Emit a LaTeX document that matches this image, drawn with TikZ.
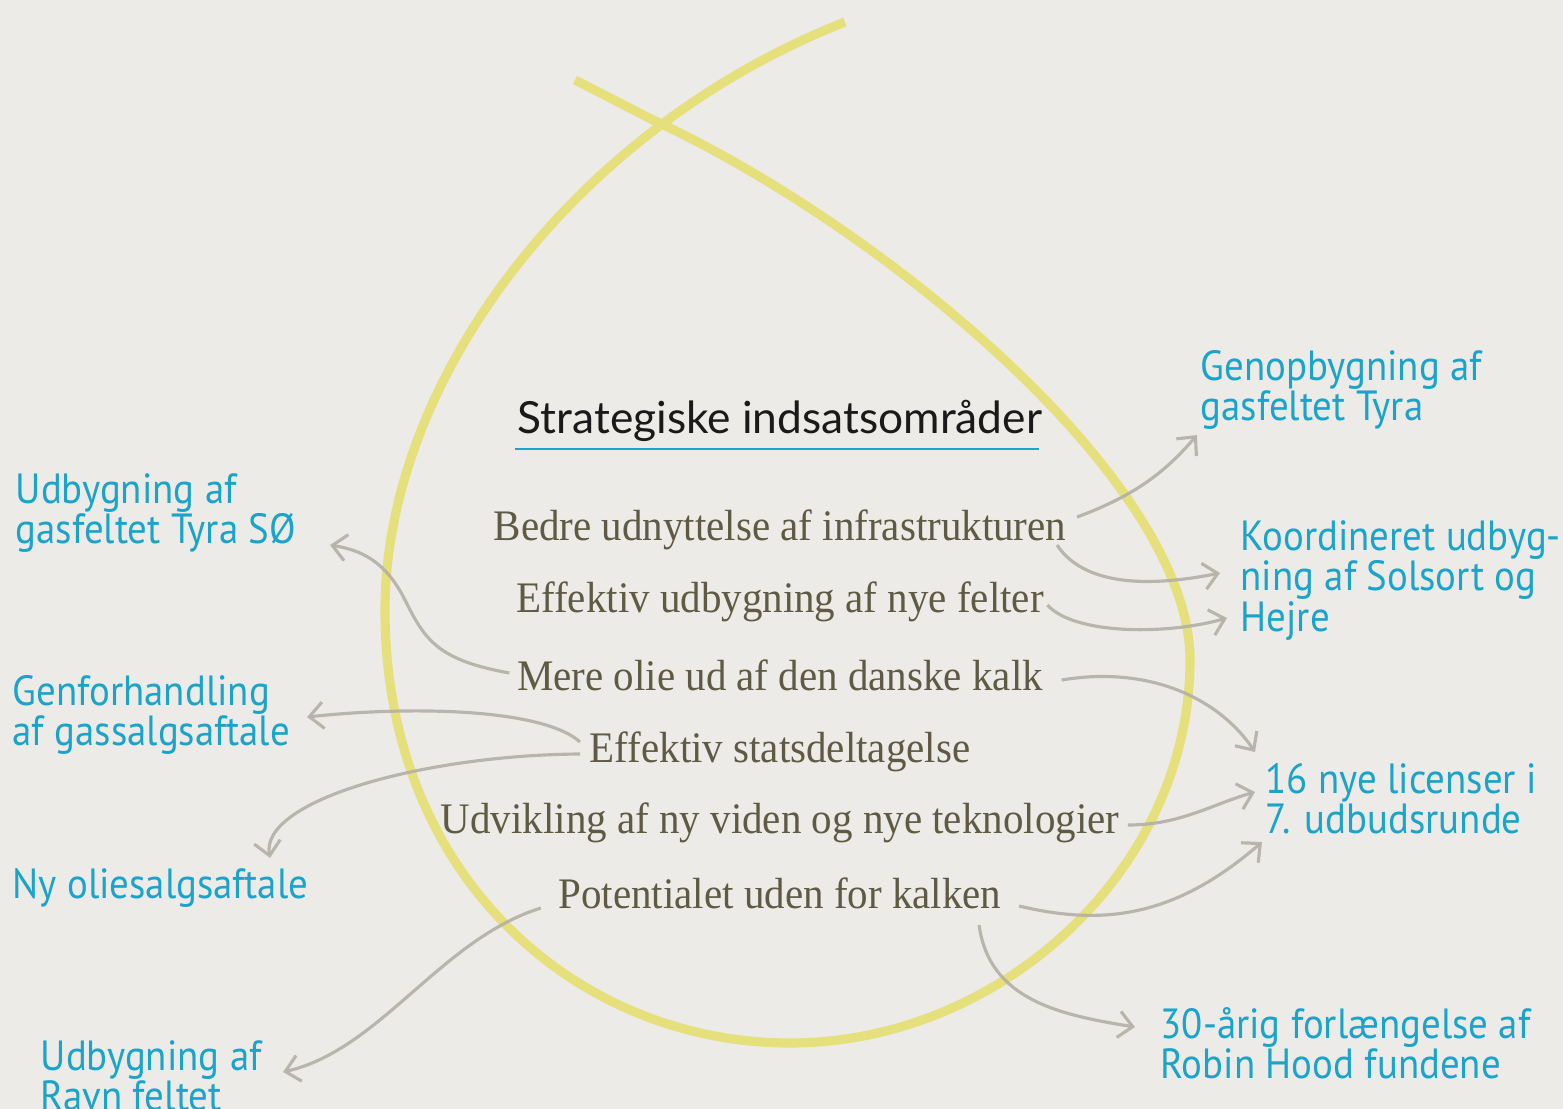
\documentclass[tikz,border=0pt]{standalone}
\usepackage{fontspec}
\setmainfont{Liberation Serif}
\newfontfamily\olivefont[FakeStretch=0.94]{Liberation Serif}
\newfontfamily\bluefont[FakeStretch=0.92]{PT Sans}
\newfontfamily\titlefont{Lato}
\usetikzlibrary{arrows.meta,calc}
\definecolor{bg}{HTML}{ECEBE7}
\definecolor{yel}{HTML}{E5DF7C}
\definecolor{arr}{HTML}{B3B1A6}
\definecolor{blu}{HTML}{1AA3CB}
\definecolor{oli}{HTML}{5E5A44}
\definecolor{ttl}{HTML}{1A1A1A}
\tikzset{
  loopline/.style={draw=yel, line width=2.6pt},
  conn/.style={draw=arr, line width=0.9pt, opacity=0.9, -{Straight Barb[length=4pt,width=7.5pt,line width=0.9pt]}},
  olivetext/.style={text=oli, font=\olivefont\fontsize{12.4}{14}\selectfont, inner sep=0pt, anchor=base},
  bluetext/.style={text=blu, font=\bluefont\fontsize{12}{10.3}\selectfont, inner sep=0pt, anchor=base west},
  titletext/.style={text=ttl, font=\titlefont\fontsize{12.6}{14}\selectfont, inner sep=0pt, anchor=base},
}
\newcommand{\blines}[1]{\begin{tabular}[t]{@{}l@{}}#1\end{tabular}}
\begin{document}
\begin{tikzpicture}[x=0.01cm,y=-0.01cm]
\useasboundingbox (0,0) rectangle (1563,1109);
\fill[bg] (0,0) rectangle (1563,1109);
% yellow loop
\draw[loopline] (845,22) .. controls (575,128) and (385,380) .. (385,610)
  .. controls (385,880) and (580,1043) .. (790,1043)
  .. controls (1000,1043) and (1190,870) .. (1190,660)
  .. controls (1190,480) and (880,225) .. (653,120) -- (575,80);
% title
\node[titletext] (title) at (780,433) {Strategiske indsatsområder};
\draw[blu, line width=0.85pt] ($(title.base west)+(-2,16)$) -- ($(title.base east)+(-4,16)$);
% olive items
\node[olivetext] (bedre) at (780,540) {Bedre udnyttelse af infrastrukturen};
\node[olivetext] (effudb) at (780,612) {Effektiv udbygning af nye felter};
\node[olivetext] (mere) at (780,690) {Mere olie ud af den danske kalk};
\node[olivetext] (effstat) at (780,762) {Effektiv statsdeltagelse};
\node[olivetext] (udv) at (780,833) {Udvikling af ny viden og nye teknologier};
\node[olivetext] (pot) at (780,908) {Potentialet uden for kalken};
% blue items
\node[bluetext] (tyra) at (1200,380) {\blines{Genopbygning af\\gasfeltet Tyra}};
\node[bluetext] (koord) at (1240,550) {\blines{Koordineret udbyg-\\ning af Solsort og\\Hejre}};
\node[bluetext] (lic) at (1265,793) {\blines{16 nye licenser i\\7. udbudsrunde}};
\node[bluetext] (robin) at (1160,1038) {\blines{30-årig forlængelse af\\Robin Hood fundene}};
\node[bluetext] (tyraso) at (15,503) {\blines{Udbygning af\\gasfeltet Tyra SØ}};
\node[bluetext] (genf) at (12,705) {\blines{Genforhandling\\af gassalgsaftale}};
\node[bluetext] (ny) at (12,898) {Ny oliesalgsaftale};
\node[bluetext] (ravn) at (40,1070) {\blines{Udbygning af\\Ravn feltet}};
% connectors
\draw[conn] ($(bedre.base east)+(10,-23)$) .. controls +(60,-22) and +(-30,35) .. ($(tyra.base west)+(-3,55)$);
\draw[conn] ($(bedre.base east)+(-10,5)$) .. controls +(30,45) and +(-60,12) .. ($(koord.base west)+(-20,23)$);
\draw[conn] ($(effudb.base east)+(3,-7)$) .. controls +(27,30) and +(-60,17) .. ($(koord.base west)+(-13,68)$);
\draw[conn] ($(mere.base east)+(18,-10)$) .. controls +(90,-15) and +(-35,-52) .. ($(lic.base west)+(-10,-41)$);
\draw[conn] ($(udv.base east)+(8,-8)$) .. controls +(52,0) and +(-45,13) .. ($(lic.base west)+(-10,-1)$);
\draw[conn] ($(pot.base east)+(17,-2)$) .. controls +(80,19) and +(-90,78) .. ($(lic.base west)+(-3,49)$);
\draw[conn] ($(pot.base east)+(-23,17)$) .. controls +(10,75) and +(-75,-12) .. ($(robin.base west)+(-25,-11)$);
\draw[conn] ($(pot.base west)+(-17,0)$) .. controls +(-100,31) and +(97,-22) .. ($(ravn.base west)+(243,2)$);
\draw[conn] ($(effstat.base west)+(-9,-20)$) .. controls +(-35,-32) and +(113,-12) .. ($(genf.base west)+(295,12)$);
\draw[conn] ($(effstat.base west)+(-9,-8)$) .. controls +(-155,1) and +(-10,-58) .. ($(ny.base west)+(258,-40)$);
\draw[conn] ($(mere.base west)+(-7,-17)$) .. controls +(-72,-13) and +(20,40) .. (405,600) .. controls +(-20,-40) and +(30,5) .. ($(tyraso.base west)+(315,42)$);
\end{tikzpicture}
\end{document}
